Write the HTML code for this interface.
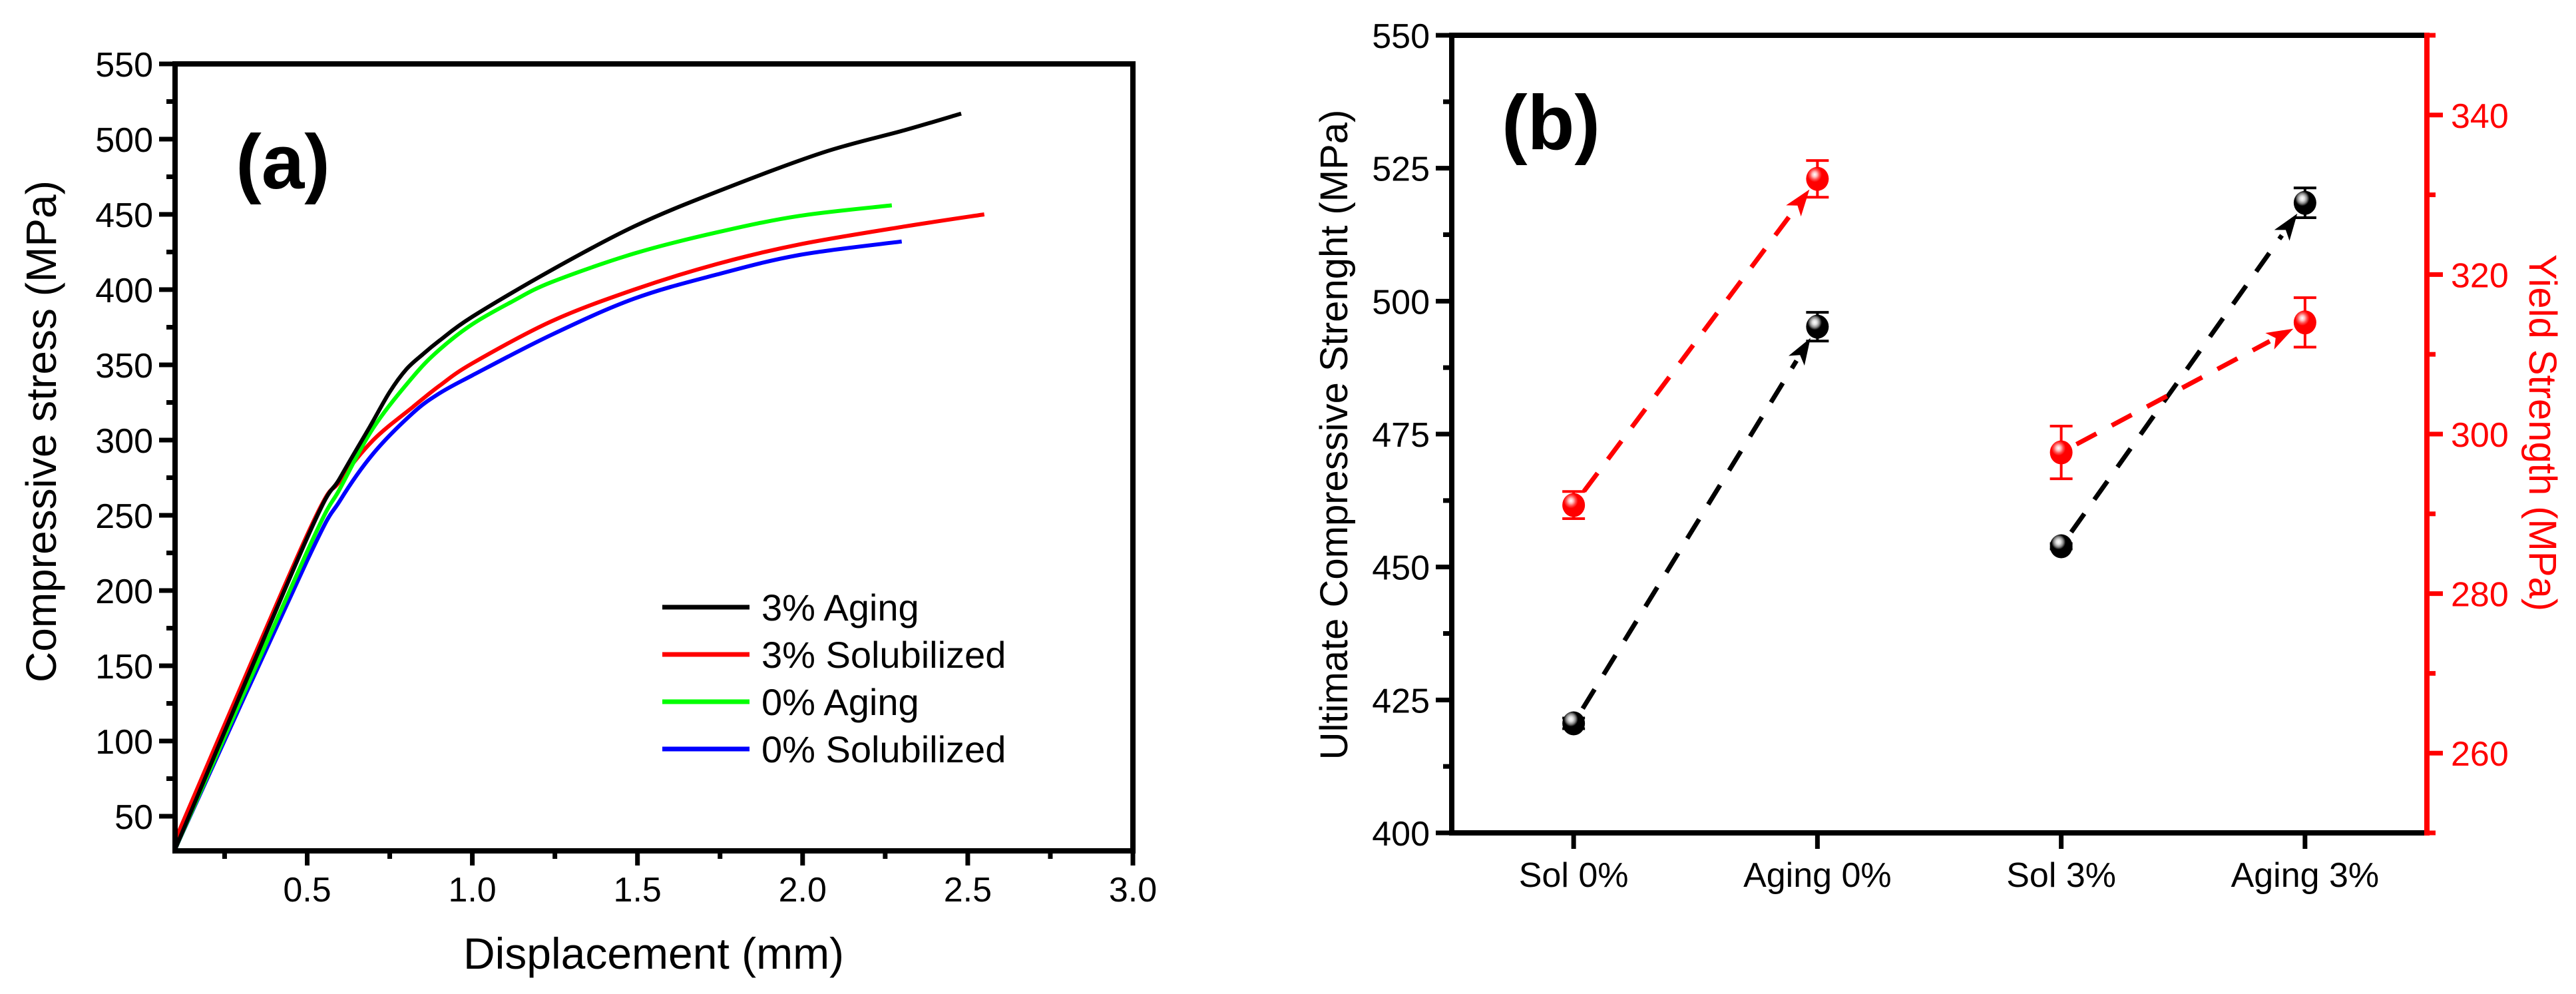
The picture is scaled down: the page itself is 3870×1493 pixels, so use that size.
<!DOCTYPE html>
<html><head><meta charset="utf-8"><style>
html,body{margin:0;padding:0;background:#fff;}
svg{display:block;font-family:"Liberation Sans",Arial,sans-serif;}
</style></head><body>
<svg id="chart" width="3870" height="1493" viewBox="0 0 3870 1493" xmlns="http://www.w3.org/2000/svg">
<defs>
<radialGradient id="gBlack" cx="0.38" cy="0.32" r="0.7">
<stop offset="0" stop-color="#fff"/><stop offset="0.15" stop-color="#ddd"/><stop offset="0.3" stop-color="#888"/><stop offset="0.45" stop-color="#000"/><stop offset="1" stop-color="#000"/></radialGradient>
<radialGradient id="gRed" cx="0.38" cy="0.32" r="0.7">
<stop offset="0" stop-color="#fff"/><stop offset="0.15" stop-color="#ffc0c0"/><stop offset="0.3" stop-color="#ff5050"/><stop offset="0.45" stop-color="#f00"/><stop offset="1" stop-color="#f00"/></radialGradient>
</defs>
<g id="plotA"></g>
<g id="plotB"></g>
</svg>
<script>
// ---------- Chart (a) data ----------
const seriesNames = ["3% Aging", "3% Solubilized", "0% Aging", "0% Solubilized"];
const seriesColors = ["#000000", "#ff0000", "#00ff00", "#0000ff"];
const blackX = [0.1, 0.5, 0.6, 0.69, 0.75, 0.8, 0.85, 0.9, 1.0, 1.24, 1.49, 1.74, 2.06, 2.31, 2.48];
const blackY = [28, 235, 275, 309, 332, 347, 357, 366, 382, 413, 442, 465, 491, 506, 517];
const redX = [0.1, 0.5, 0.6, 0.7, 0.82, 0.9, 1.0, 1.24, 1.49, 1.74, 1.99, 2.31, 2.55];
const redY = [34, 237, 273, 300, 322, 336, 351, 379, 400, 417, 430, 442, 450];
const greenX = [0.1, 0.5, 0.6, 0.7, 0.82, 0.9, 1.0, 1.12, 1.24, 1.49, 1.74, 1.99, 2.27];
const greenY = [28, 226, 268, 308, 342, 360, 377, 392, 405, 424, 438, 449, 456];
const blueX = [0.1, 0.5, 0.6, 0.7, 0.82, 0.9, 1.0, 1.24, 1.49, 1.74, 1.99, 2.30];
const blueY = [28, 220, 260, 291, 318, 331, 343, 370, 394, 410, 423, 432];
const xTicksA = [0.5, 1.0, 1.5, 2.0, 2.5, 3.0];
const xTickLabelsA = ["0.5", "1.0", "1.5", "2.0", "2.5", "3.0"];
const yTicksA = [50, 100, 150, 200, 250, 300, 350, 400, 450, 500, 550];

// ---------- Chart (b) data ----------
const categories = ["Sol 0%", "Aging 0%", "Sol 3%", "Aging 3%"];
const ucsValues = [420.6, 495.2, 453.9, 518.5];
const ucsErrors = [1.0, 2.7, 0.5, 2.8];
const yieldValues = [291.1, 332.0, 297.7, 314.0];
const yieldErrors = [1.7, 2.3, 3.3, 3.1];
const yTicksB = [400, 425, 450, 475, 500, 525, 550];
const yTicksRight = [260, 280, 300, 320, 340];

const NS = "http://www.w3.org/2000/svg";
function mk(parent, tag, attrs, text) {
  const el = document.createElementNS(NS, tag);
  for (const k in attrs) el.setAttribute(k, attrs[k]);
  if (text !== undefined) el.textContent = text;
  parent.appendChild(el);
  return el;
}
function smoothPath(pts) {
  let d = "M" + pts[0][0].toFixed(1) + "," + pts[0][1].toFixed(1);
  for (let i = 0; i < pts.length - 1; i++) {
    const p0 = pts[Math.max(0, i - 1)], p1 = pts[i], p2 = pts[i + 1], p3 = pts[Math.min(pts.length - 1, i + 2)];
    const c1x = p1[0] + (p2[0] - p0[0]) / 6, c1y = p1[1] + (p2[1] - p0[1]) / 6;
    const c2x = p2[0] - (p3[0] - p1[0]) / 6, c2y = p2[1] - (p3[1] - p1[1]) / 6;
    d += `C${c1x.toFixed(1)},${c1y.toFixed(1)} ${c2x.toFixed(1)},${c2y.toFixed(1)} ${p2[0].toFixed(1)},${p2[1].toFixed(1)}`;
  }
  return d;
}

// ===== Plot A =====
(function(){
  const g = document.getElementById("plotA");
  const L = 263, R = 1702, T = 96, B = 1278;
  const xMin = 0.1, xMax = 3.0, yMin = 27, yMax = 550;
  const sx = v => L + (v - xMin) / (xMax - xMin) * (R - L);
  const sy = v => B - (v - yMin) / (yMax - yMin) * (B - T);
  const allX = [blackX, redX, greenX, blueX];
  const allY = [blackY, redY, greenY, blueY];
  const names = ["curve-3pct-aging", "curve-3pct-solubilized", "curve-0pct-aging", "curve-0pct-solubilized"];
  const order = [1, 3, 2, 0];
  order.forEach(i => {
    const pts = allX[i].map((x, j) => [sx(x), sy(allY[i][j])]);
    const p = mk(g, "path", {d: smoothPath(pts), fill: "none", stroke: seriesColors[i], "stroke-width": 6, "stroke-linejoin": "round"});
    
    
  });
  const box = mk(g, "rect", {x: L, y: T, width: R - L, height: B - T, fill: "none", stroke: "#000", "stroke-width": 8});
  
  
  for (let v = 0.25; v <= 3.0001; v += 0.25) {
    const major = Math.abs(v * 2 - Math.round(v * 2)) < 1e-6;
    const t = mk(g, "line", {x1: sx(v), x2: sx(v), y1: B, y2: B + (major ? 22 : 12), stroke: "#000", "stroke-width": 7});
    
    
  }
  xTicksA.forEach((v, i) => {
    const t = mk(g, "text", {x: sx(v), y: 1354, "font-size": 52, "text-anchor": "middle"}, xTickLabelsA[i]);
    
    
  });
  for (let v = 50; v <= 550; v += 25) {
    const major = v % 50 === 0;
    const t = mk(g, "line", {x1: L, x2: L - (major ? 24 : 13), y1: sy(v), y2: sy(v), stroke: "#000", "stroke-width": 7});
    
    
  }
  yTicksA.forEach(v => {
    const t = mk(g, "text", {x: 230, y: sy(v) + 19, "font-size": 52, "text-anchor": "end"}, String(v));
    
    
  });
  const xl = mk(g, "text", {x: 982, y: 1455, "font-size": 66, "text-anchor": "middle"}, "Displacement (mm)");
  
  
  const yl = mk(g, "text", {x: 0, y: 0, "font-size": 64, "text-anchor": "middle", transform: "translate(84,648) rotate(-90)"}, "Compressive stress (MPa)");
  
  
  const pl = mk(g, "text", {x: 425, y: 283, "font-size": 116, "font-weight": "bold", "text-anchor": "middle"}, "(a)");
  
  
  seriesNames.forEach((n, i) => {
    const y = 912 + i * 71;
    const ln = mk(g, "line", {x1: 995, x2: 1126, y1: y, y2: y, stroke: seriesColors[i], "stroke-width": 7});
    
    
    const tx = mk(g, "text", {x: 1144, y: y + 20, "font-size": 56}, n);
    
    
  });
})();

// ===== Plot B =====
(function(){
  const g = document.getElementById("plotB");
  const L = 2181, R = 3646, T = 53, B = 1251;
  const sx = i => L + (i + 1 - 0.5) / 4 * (R - L);
  const syL = v => B - (v - 400) / 150 * (B - T);
  const syR = v => B - (v - 250) / 100 * (B - T);
  function arrow(x1, y1, x2, y2, color, name) {
    const dx = x2 - x1, dy = y2 - y1, len = Math.hypot(dx, dy);
    const ux = dx / len, uy = dy / len;
    const sxp = x1 + ux * 26, syp = y1 + uy * 26;
    const ex = x2 - ux * 20, ey = y2 - uy * 20;
    const hx = ex - ux * 40, hy = ey - uy * 40;
    const ln = mk(g, "line", {x1: sxp, y1: syp, x2: hx, y2: hy, stroke: color, "stroke-width": 7, "stroke-dasharray": "34 26"});
    
    
    const px = -uy, py = ux;
    const head = mk(g, "polygon", {points: `${ex},${ey} ${hx + px * 14},${hy + py * 14} ${hx + ux * 10},${hy + uy * 10} ${hx - px * 14},${hy - py * 14}`, fill: color});
    
    
  }
  arrow(sx(0), syL(ucsValues[0]), sx(1), syL(ucsValues[1]), "#000", "ucs-trend-0pct");
  arrow(sx(2), syL(ucsValues[2]), sx(3), syL(ucsValues[3]), "#000", "ucs-trend-3pct");
  arrow(sx(0), syR(yieldValues[0]), sx(1), syR(yieldValues[1]), "#f00", "yield-trend-0pct");
  arrow(sx(2), syR(yieldValues[2]), sx(3), syR(yieldValues[3]), "#f00", "yield-trend-3pct");
  function point(cx, cy, eTop, eBot, color, grad, name) {
    const e = mk(g, "path", {d: `M${cx},${eTop}V${eBot}M${cx - 17},${eTop}H${cx + 17}M${cx - 17},${eBot}H${cx + 17}`, stroke: color, "stroke-width": 4, fill: "none"});
    
    
    const c = mk(g, "ellipse", {cx: cx, cy: cy, rx: 17, ry: 18, fill: `url(#${grad})`});
    
    
  }
  categories.forEach((c, i) => {
    point(sx(i), syR(yieldValues[i]), syR(yieldValues[i] + yieldErrors[i]), syR(yieldValues[i] - yieldErrors[i]), "#f00", "gRed", "yield-point");
    point(sx(i), syL(ucsValues[i]), syL(ucsValues[i] + ucsErrors[i]), syL(ucsValues[i] - ucsErrors[i]), "#000", "gBlack", "ucs-point");
  });
  const fr = mk(g, "path", {d: `M${R},${T}H${L}V${B}H${R}`, fill: "none", stroke: "#000", "stroke-width": 8});
  
  
  const ra = mk(g, "line", {x1: R, x2: R, y1: T - 4, y2: B + 4, stroke: "#f00", "stroke-width": 8});
  
  
  for (let v = 400; v <= 550; v += 12.5) {
    const major = v % 25 === 0;
    const t = mk(g, "line", {x1: L, x2: L - (major ? 24 : 13), y1: syL(v), y2: syL(v), stroke: "#000", "stroke-width": 7});
    
    
  }
  yTicksB.forEach(v => {
    const t = mk(g, "text", {x: 2148, y: syL(v) + 19, "font-size": 52, "text-anchor": "end"}, String(v));
    
    
  });
  for (let v = 250; v <= 350; v += 10) {
    const major = v % 20 === 0;
    const t = mk(g, "line", {x1: R, x2: R + (major ? 24 : 13), y1: syR(v), y2: syR(v), stroke: "#f00", "stroke-width": 7});
    
    
  }
  yTicksRight.forEach(v => {
    const t = mk(g, "text", {x: 3682, y: syR(v) + 19, "font-size": 52, fill: "#f00"}, String(v));
    
    
  });
  categories.forEach((c, i) => {
    const t = mk(g, "line", {x1: sx(i), x2: sx(i), y1: B, y2: B + 24, stroke: "#000", "stroke-width": 7});
    
    
    const tx = mk(g, "text", {x: sx(i), y: 1332, "font-size": 52, "text-anchor": "middle"}, c);
    
    
  });
  const yl = mk(g, "text", {x: 0, y: 0, "font-size": 58, "text-anchor": "middle", transform: "translate(2024,653) rotate(-90)"}, "Ultimate Compressive Strenght (MPa)");
  
  
  const yr = mk(g, "text", {x: 0, y: 0, "font-size": 58, fill: "#f00", "text-anchor": "middle", transform: "translate(3800,650) rotate(90)"}, "Yield Strength (MPa)");
  
  
  const pl = mk(g, "text", {x: 2330, y: 224, "font-size": 116, "font-weight": "bold", "text-anchor": "middle"}, "(b)");
  
  
})();
</script>
</body></html>
